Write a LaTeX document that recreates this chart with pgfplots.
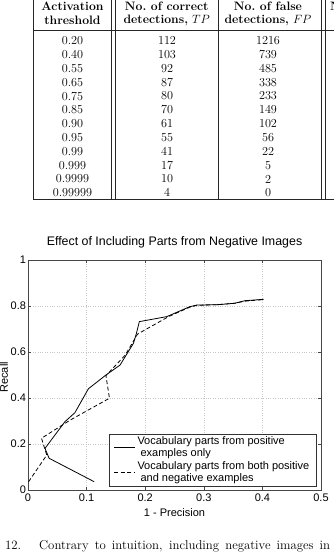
\documentclass[border=0pt]{standalone}
\usepackage{fontspec}
\usepackage{pgfplots}
\pgfplotsset{compat=1.18}
\newfontfamily\arial{Liberation Sans}
\newcommand{\tf}{\fontsize{12.2}{14}\selectfont}
\begin{document}
\begin{tikzpicture}[x=1pt,y=1pt]
\useasboundingbox (0,0) rectangle (334,-558);
\clip (0,0) rectangle (334,-558);
% ---- table ----
\begin{scope}[line width=0.7pt, draw=black!85]
\draw (33,5) -- (33,-199);
\draw (111.7,5) -- (111.7,-199);
\draw (114.9,5) -- (114.9,-199);
\draw (218.3,5) -- (218.3,-199);
\draw (321.7,5) -- (321.7,-199);
\draw (324.9,5) -- (324.9,-199);
\draw (33,-30) -- (340,-30);
\draw (33,-199) -- (340,-199);
\end{scope}
\begin{scope}[every node/.style={inner sep=0pt, anchor=center, font=\tf}]
\node at (72.5,-6.7) {\textbf{Activation}};
\node at (72.5,-20.7) {\textbf{threshold}};
\node at (166.7,-6.7) {\textbf{No.\ of correct}};
\node at (166.7,-20.7) {\textbf{detections,} $TP$};
\node at (268,-6.7) {\textbf{No.\ of false}};
\node at (268,-20.7) {\textbf{detections,} $FP$};
\node[anchor=west] at (330,-6.7) {\textbf{No.}};
\foreach \a/\b/\c [count=\i from 0] in {0.20/112/1216,0.40/103/739,0.55/92/485,0.65/87/338,0.75/80/233,0.85/70/149,0.90/61/102,0.95/55/56,0.99/41/22,0.999/17/5,0.9999/10/2,0.99999/4/0}{
  \node at (72.5,-40.7-13.83*\i) {\a};
  \node at (167,-40.7-13.83*\i) {\b};
  \node at (268,-40.7-13.83*\i) {\c};
}
\end{scope}
% ---- chart ----
\begin{axis}[
  at={(28pt,-490pt)}, anchor=south west,
  scale only axis, width=293pt, height=230pt,
  xmin=0, xmax=0.5, ymin=0, ymax=1,
  xtick={0,0.1,0.2,0.3,0.4,0.5},
  ytick={0,0.2,0.4,0.6,0.8,1},
  grid=major,
  major grid style={dotted, gray!45, line width=0.5pt},
  axis line style={gray!55!black, line width=0.6pt},
  tick align=inside,
  major tick length=3pt,
  tick style={gray!55!black},
  /pgf/number format/assume math mode=true,
  tick label style={font=\fontsize{11}{13}\arial},
  yticklabel style={xshift=1.5pt},
  title={Effect of Including Parts from Negative Images},
  title style={font=\fontsize{12.4}{14}\arial, at={(0.5,1.052)}, anchor=center, inner sep=0pt},
  xlabel={1 - Precision},
  ylabel={Recall},
  label style={font=\fontsize{11}{13}\arial},
  xlabel style={at={(rel axis cs:0.5,-0.096)}, anchor=center, inner sep=0pt},
  ylabel style={at={(rel axis cs:-0.082,0.49)}, anchor=center, inner sep=0pt},
  legend cell align=left,
  legend style={at={(rel axis cs:0.983,0.017)}, anchor=south east,
    font=\fontsize{11}{12}\arial, cells={align=left}, draw=black!80,
    inner xsep=4.5pt, inner ysep=1pt, row sep=-1pt},
  legend image code/.code={\draw[#1] (0pt,0pt) -- (21pt,0pt);},
]
\addplot[black, line width=0.8pt] coordinates {
(0.113,0.036) (0.036,0.138) (0.029,0.181) (0.063,0.297) (0.080,0.336)
(0.103,0.440) (0.133,0.500) (0.157,0.543) (0.180,0.638) (0.185,0.681)
(0.190,0.732) (0.237,0.754) (0.276,0.797) (0.288,0.804) (0.325,0.806)
(0.353,0.812) (0.370,0.823) (0.402,0.829)};
\addlegendentry{Vocabulary parts from positive\\\ examples only}
\addplot[black, line width=0.8pt, dash pattern=on 4pt off 2.5pt] coordinates {
(0.001,0.036) (0.032,0.152) (0.023,0.225) (0.072,0.304) (0.139,0.399)
(0.133,0.497) (0.166,0.587) (0.187,0.678) (0.240,0.754) (0.276,0.795)
(0.288,0.803) (0.325,0.806) (0.353,0.812) (0.370,0.821) (0.402,0.828)};
\addlegendentry{Vocabulary parts from both positive\\\ and negative examples}
\end{axis}
% ---- caption ----
\node[anchor=base west, inner sep=0pt, font=\fontsize{12.8}{14}\selectfont] at (5,-549) {12.};
\node[anchor=base west, inner sep=0pt, font=\fontsize{12.8}{14}\selectfont] at (39,-549) {\makebox[291pt][s]{Contrary to intuition, including negative images in}};
\end{tikzpicture}
\end{document}
